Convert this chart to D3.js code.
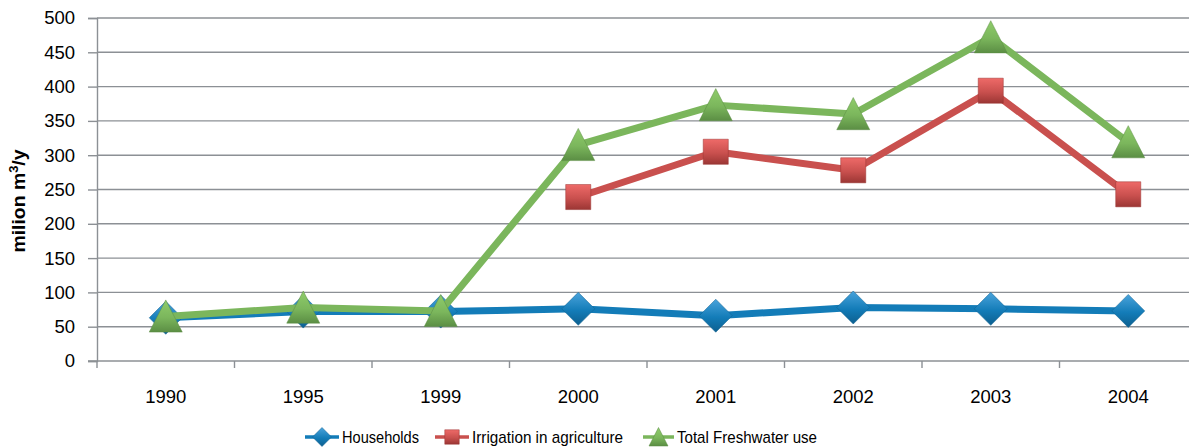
<!DOCTYPE html>
<html>
<head>
<meta charset="utf-8">
<script src="https://cdn.jsdelivr.net/npm/d3@7"></script>
<style>
  html, body { margin: 0; padding: 0; background: #fff; }
  svg { display: block; }
  text { font-family: "Liberation Sans", Arial, sans-serif; fill: #000; }
</style>
</head>
<body>
<svg id="chart" width="1189" height="448"></svg>
<script>
// Freshwater use, million m3 per year
const years = ["1990", "1995", "1999", "2000", "2001", "2002", "2003", "2004"];
const households = [63, 72, 72, 76, 66, 78, 76, 73];
const irrigation = [null, null, null, 239, 305, 278, 394, 243];
const totalUse = [65, 78, 73, 315, 373, 360, 472, 319];
const yTicks = [0, 50, 100, 150, 200, 250, 300, 350, 400, 450, 500];
const seriesNames = ["Households", "Irrigation in agriculture", "Total Freshwater use"];

const W = 1189, H = 448;
const plot = { left: 97, top: 18, right: 1197, bottom: 361 };

const svg = d3.select("#chart");
const defs = svg.append("defs");

const x = d3.scaleBand().domain(years).range([plot.left, plot.right]).paddingInner(0).paddingOuter(0);
const y = d3.scaleLinear().domain([0, 500]).range([plot.bottom, plot.top]);

const gridColor = "#8c9095";

// horizontal gridlines
svg.append("g")
  .selectAll("line")
  .data(yTicks.filter(d => d > 0))
  .join("line")
  .attr("x1", plot.left).attr("x2", W)
  .attr("y1", d => y(d)).attr("y2", d => y(d))
  .attr("stroke", gridColor).attr("stroke-width", 1.4);

// y axis
const yAxis = svg.append("g")
  .attr("transform", `translate(${plot.left},0)`)
  .call(d3.axisLeft(y).tickValues(yTicks).tickSize(9).tickPadding(13));
yAxis.select(".domain").attr("stroke", gridColor).attr("stroke-width", 1.4);
yAxis.selectAll(".tick line").attr("stroke", gridColor).attr("stroke-width", 1.4);
yAxis.selectAll(".tick text")
  .attr("font-family", "'Liberation Sans', Arial, sans-serif")
  .attr("font-size", 18.5).attr("fill", "#000");

// x axis: ticks at category boundaries
const xAxis = svg.append("g").attr("transform", `translate(0,${plot.bottom})`);
xAxis.append("line")
  .attr("x1", plot.left - 9).attr("x2", W)
  .attr("y1", 0).attr("y2", 0)
  .attr("stroke", gridColor).attr("stroke-width", 1.4);
xAxis.selectAll("line.tk")
  .data(years.map(d => x(d)))
  .join("line").attr("class", "tk")
  .attr("x1", d => d).attr("x2", d => d)
  .attr("y1", 0).attr("y2", 7)
  .attr("stroke", gridColor).attr("stroke-width", 1.4);
xAxis.selectAll("text")
  .data(years)
  .join("text")
  .attr("x", d => x(d) + x.bandwidth() / 2)
  .attr("y", 42)
  .attr("text-anchor", "middle")
  .attr("font-size", 18.5)
  .text(d => d);

// y axis title
svg.append("text")
  .attr("transform", "translate(25,201) rotate(-90)")
  .attr("text-anchor", "middle")
  .attr("font-size", 18)
  .attr("font-weight", "bold")
  .attr("textLength", 103)
  .attr("lengthAdjust", "spacingAndGlyphs")
  .html("milion m<tspan font-size='12' dy='-7'>3</tspan><tspan dy='7'>/y</tspan>");

// series styling
const series = [
  { name: seriesNames[0], values: households, color: "#137cb8", light: "#4aa3db", dark: "#0d5f8f", shape: "diamond" },
  { name: seriesNames[1], values: irrigation, color: "#c9504e", light: "#ee6a68", dark: "#9b3634", shape: "square" },
  { name: seriesNames[2], values: totalUse, color: "#7bb65c", light: "#8fcc6b", dark: "#5b8e44", shape: "triangle" }
];

series.forEach((s, i) => {
  const g = defs.append("linearGradient").attr("id", "grad" + i)
    .attr("x1", 0).attr("y1", 0).attr("x2", 0).attr("y2", 1);
  g.append("stop").attr("offset", "0%").attr("stop-color", s.light);
  g.append("stop").attr("offset", "55%").attr("stop-color", s.color);
  g.append("stop").attr("offset", "100%").attr("stop-color", s.dark);
});

function markerPath(shape, size) {
  const h = size / 2;
  if (shape === "diamond") return `M0,${-h}L${h},0L0,${h}L${-h},0Z`;
  if (shape === "square") { const a = h * 0.76; return `M${-a},${-a}H${a}V${a}H${-a}Z`; }
  return `M0,${-h}L${h},${h * 0.95}L${-h},${h * 0.95}Z`;
}

const line = d3.line()
  .defined(d => d.v != null)
  .x(d => x(d.k) + x.bandwidth() / 2)
  .y(d => y(d.v));

series.forEach((s, i) => {
  const pts = years.map((k, j) => ({ k, v: s.values[j] }));
  const g = svg.append("g");
  g.append("path")
    .datum(pts)
    .attr("d", line)
    .attr("fill", "none")
    .attr("stroke", s.color)
    .attr("stroke-width", 7)
    .attr("stroke-linejoin", "round");
  g.selectAll("path.m")
    .data(pts.filter(d => d.v != null))
    .join("path").attr("class", "m")
    .attr("transform", d => `translate(${x(d.k) + x.bandwidth() / 2},${y(d.v)})`)
    .attr("d", markerPath(s.shape, 33))
    .attr("fill", `url(#grad${i})`)
    .attr("stroke", s.dark)
    .attr("stroke-opacity", 0.5)
    .attr("stroke-width", 1);
});

// legend
const legendY = 437;
const legendItems = [
  { x: 305, textX: 342, w: 77 },
  { x: 435, textX: 472, w: 151 },
  { x: 643, textX: 677, w: 140 }
];
series.forEach((s, i) => {
  const it = legendItems[i];
  const g = svg.append("g");
  g.append("line")
    .attr("x1", it.x).attr("x2", it.textX - 3)
    .attr("y1", legendY).attr("y2", legendY)
    .attr("stroke", s.color).attr("stroke-width", 3.5);
  g.append("path")
    .attr("transform", `translate(${(it.x + it.textX - 3) / 2},${legendY})`)
    .attr("d", markerPath(s.shape, 19))
    .attr("fill", `url(#grad${i})`)
    .attr("stroke", s.dark).attr("stroke-opacity", 0.5);
  g.append("text")
    .attr("x", it.textX).attr("y", legendY + 6)
    .attr("font-size", 17)
    .attr("textLength", it.w)
    .attr("lengthAdjust", "spacingAndGlyphs")
    .text(s.name);
});
</script>
</body>
</html>
